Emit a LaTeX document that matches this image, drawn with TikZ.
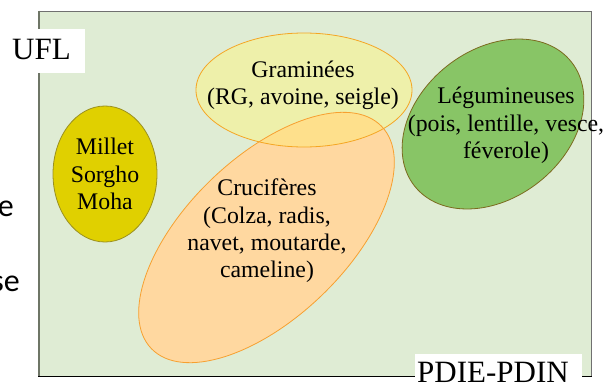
\documentclass[tikz,border=0pt]{standalone}
\usepackage{fontspec}
\setmainfont{Liberation Serif}
\newfontfamily\sidefont{Carlito}
\definecolor{bgfill}{HTML}{DFECD4}
\definecolor{framegray}{HTML}{707070}
\definecolor{leftgray}{HTML}{6E7566}
\definecolor{milletfill}{HTML}{E0D000}
\definecolor{milletdraw}{HTML}{9A9020}
\definecolor{gramfill}{HTML}{EEF0AA}
\definecolor{gramdraw}{HTML}{F5A623}
\definecolor{crucfill}{HTML}{FFD8A0}
\definecolor{crucdraw}{HTML}{F7A030}
\definecolor{overlapfill}{HTML}{FEE08C}
\definecolor{legfill}{HTML}{88C566}
\definecolor{legdraw}{HTML}{7B6B1F}
\tikzset{
  bodytext/.style={align=center, inner sep=0pt, font=\fontsize{23.8}{27.4}\selectfont},
  bigtext/.style={inner sep=0pt, font=\fontsize{31}{36}\selectfont},
  sidetext/.style={inner sep=0pt, font=\sidefont\fontsize{32}{38}\selectfont},
  blob/.style={line width=0.8pt}
}
\begin{document}
\begin{tikzpicture}[x=1pt, y=-1pt]
\useasboundingbox (0,0) rectangle (606,383);
% frame
\fill[bgfill] (39,11) rectangle (591,376);
\draw[framegray, line width=1pt] (39,11) -- (591,11) -- (591,376);
\draw[leftgray, line width=2pt] (39,10.5) -- (39,377);
\draw[black, line width=1.3pt] (38,376.5) -- (592,376.5);
% coordinates
\coordinate (cM) at (105,174);
\coordinate (cG) at (304,90);
\coordinate (cC) at (266.5,237.5);
\coordinate (cL) at (493,124);
% fills
\fill[milletfill] (cM) ellipse (52pt and 68pt);
\fill[gramfill] (cG) ellipse (108pt and 57pt);
\fill[crucfill, rotate around={44:(cC)}] (cC) ellipse (160pt and 80pt);
\begin{scope}
  \clip (cG) ellipse (108pt and 57pt);
  \fill[overlapfill, rotate around={44:(cC)}] (cC) ellipse (160pt and 80pt);
\end{scope}
\fill[legfill, rotate around={38.4:(cL)}] (cL) ellipse (100pt and 74pt);
% borders
\draw[blob, milletdraw] (cM) ellipse (52pt and 68pt);
\draw[blob, gramdraw] (cG) ellipse (108pt and 57pt);
\draw[blob, crucdraw, rotate around={44:(cC)}] (cC) ellipse (160pt and 80pt);
\draw[blob, legdraw, rotate around={38.4:(cL)}] (cL) ellipse (100pt and 74pt);
% texts
\node[bodytext] (millet) at (105,174) {Millet\\Sorgho\\Moha};
\node[bodytext] (gram) at (303,85.4) {Graminées\\(RG, avoine, seigle)};
\node[bodytext] (cruc) at (267,231) {Crucifères\\(Colza, radis,\\navet, moutarde,\\cameline)};
\node[bodytext] (leg) at (506,125.4) {Légumineuses\\(pois, lentille, vesce,\\féverole)};
% labels
\fill[white] (0,29) rectangle (85,73);
\node[bigtext, anchor=base west] (ufl) at (12,59) {UFL};
\fill[white] (415,354) rectangle (582,390);
\node[bigtext, anchor=base west] (pdie) at (417,382.5) {PDIE-PDIN};
\node[sidetext, anchor=base east] (side1) at (14,216) {e};
\node[sidetext, anchor=base east] (side2) at (20,291) {se};
\end{tikzpicture}
\end{document}
